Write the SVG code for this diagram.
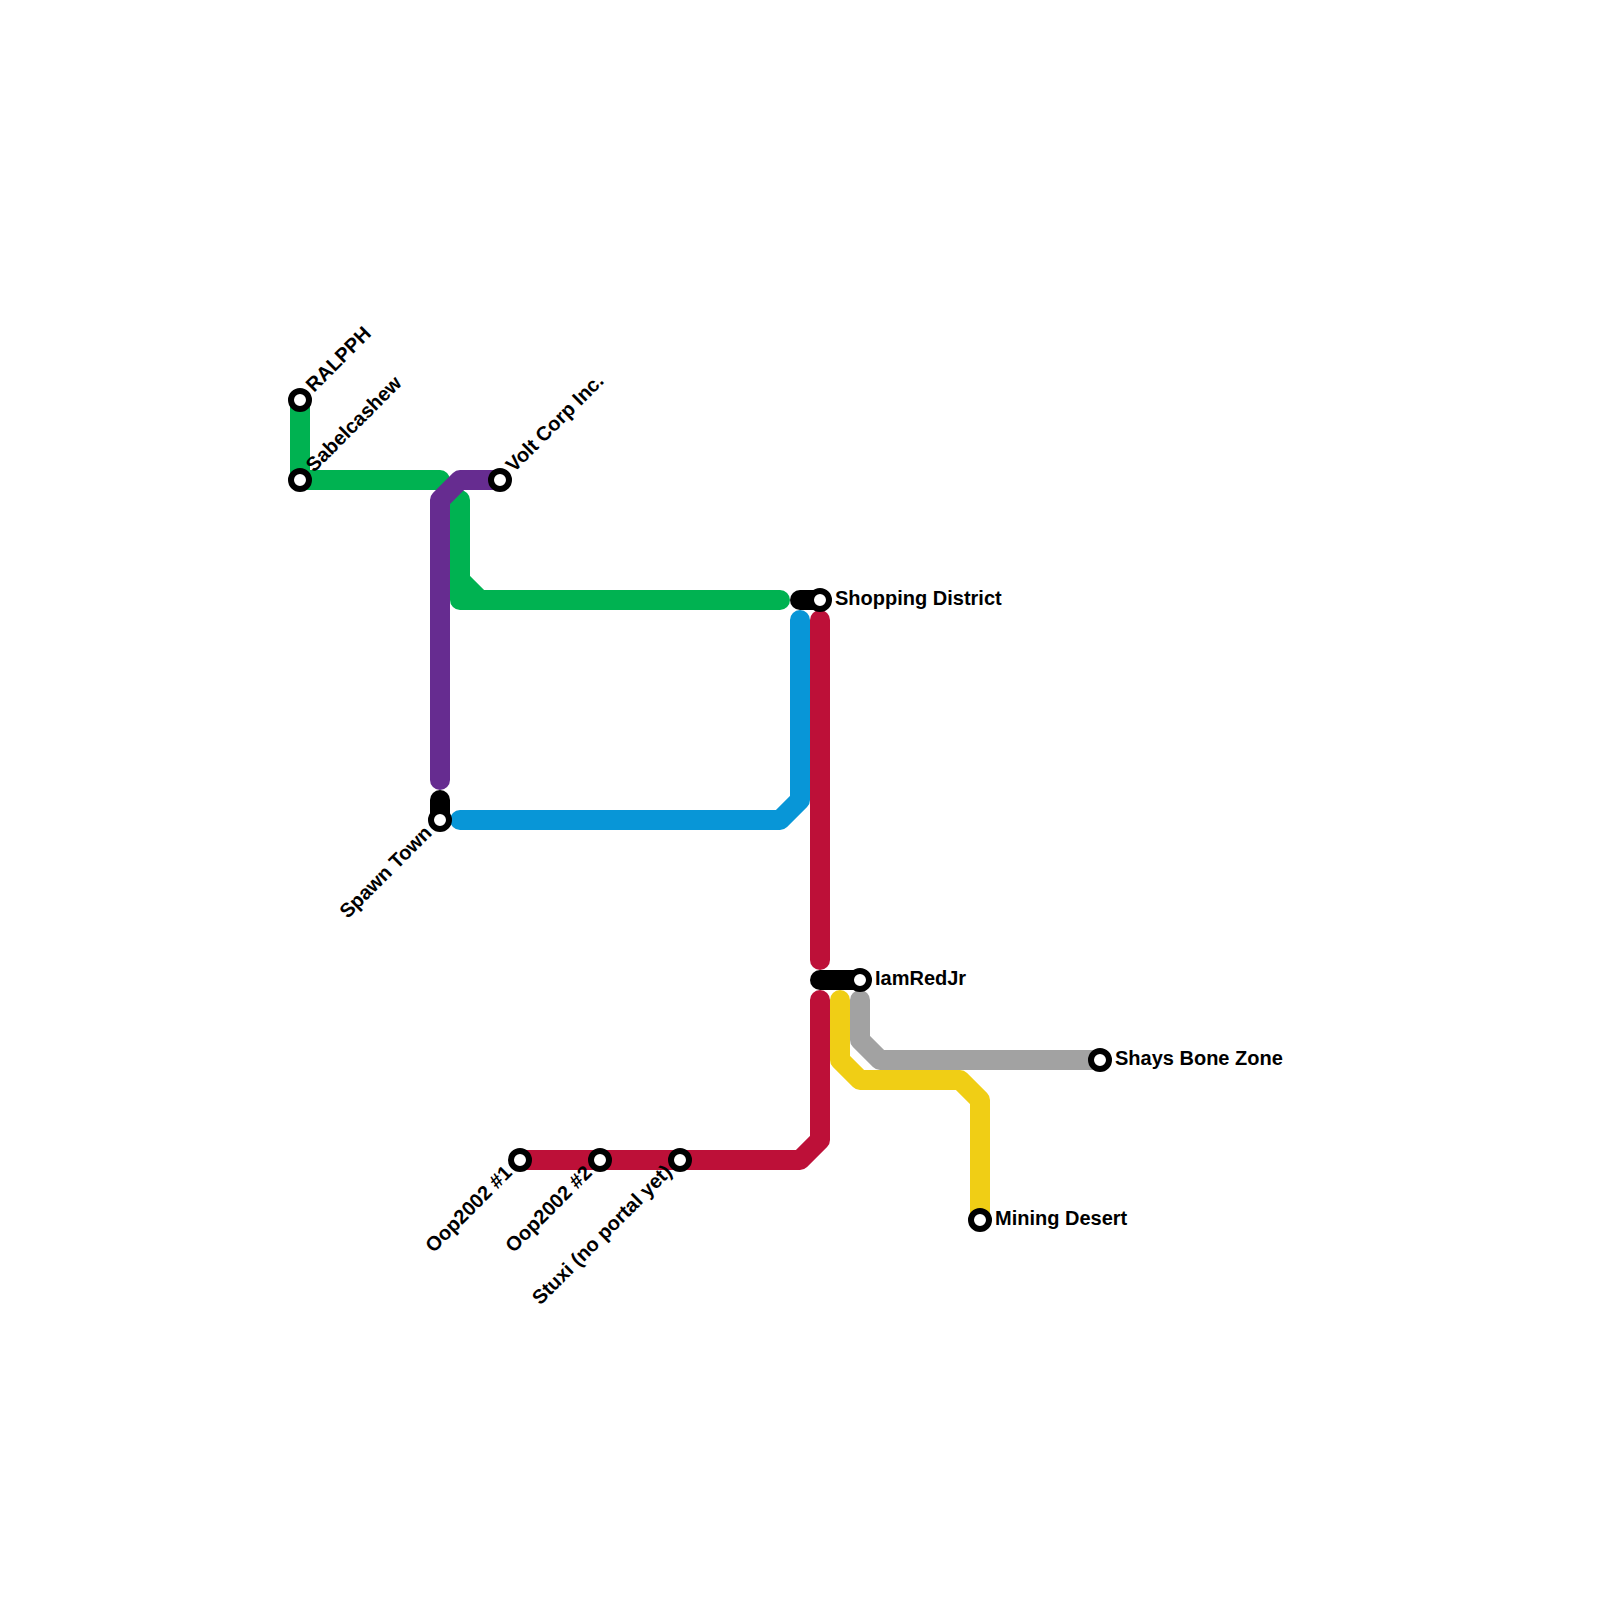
<svg xmlns="http://www.w3.org/2000/svg" width="1600" height="1600" viewBox="0 0 1600 1600">
<style>
.l{fill:none;stroke-width:20;stroke-linecap:round;stroke-linejoin:round}
.g{stroke:#00b251}.p{stroke:#662c90}.k{stroke:#000}.b{stroke:#0896d7}.r{stroke:#bd1038}.y{stroke:#f0ce15}.a{stroke:#a2a2a2}
.s{fill:#fff;stroke:#000;stroke-width:6}
text{font-family:"Liberation Sans",Arial,sans-serif;font-weight:700;font-size:20px;fill:#000}
.e{text-anchor:end}
</style>
<rect width="1600" height="1600" fill="#fff"/>
<g id="connectors">
<path class="l g" d="M300 400V480H440"/>
<path class="l g" d="M460 500V600H780M460 580L480 600"/>
<path class="l p" d="M500 480H460L440 500V780"/>
<path class="l k" d="M800 600H820"/>
<path class="l b" d="M800 620V800L780 820H460"/>
<path class="l r" d="M820 620V960"/>
<path class="l r" d="M820 1000V1140L800 1160H520"/>
<path class="l k" d="M820 980H860"/>
<path class="l k" d="M440 800V820"/>
<path class="l y" d="M840 1000V1060L860 1080H960L980 1100V1220"/>
<path class="l a" d="M860 1000V1040L880 1060H1100"/>
</g>
<g id="ralpph"><circle class="s" cx="300" cy="400" r="9"/><text transform="translate(314 393) rotate(-45)">RALPPH</text></g>
<g id="sabelcashew"><circle class="s" cx="300" cy="480" r="9"/><text transform="translate(314 473) rotate(-45)">Sabelcashew</text></g>
<g id="voltcorp"><circle class="s" cx="500" cy="480" r="9"/><text transform="translate(514 473) rotate(-45)">Volt Corp Inc.</text></g>
<g id="shopping"><circle class="s" cx="820" cy="600" r="9"/><text x="835" y="605">Shopping District</text></g>
<g id="spawn"><circle class="s" cx="440" cy="820" r="9"/><text class="e" transform="translate(433 834) rotate(-45)">Spawn Town</text></g>
<g id="iamredjr"><circle class="s" cx="860" cy="980" r="9"/><text x="875" y="985">IamRedJr</text></g>
<g id="shays"><circle class="s" cx="1100" cy="1060" r="9"/><text x="1115" y="1065">Shays Bone Zone</text></g>
<g id="mining"><circle class="s" cx="980" cy="1220" r="9"/><text x="995" y="1225">Mining Desert</text></g>
<g id="oop1"><circle class="s" cx="520" cy="1160" r="9"/><text class="e" transform="translate(513 1174) rotate(-45)">Oop2002 #1</text></g>
<g id="oop2"><circle class="s" cx="600" cy="1160" r="9"/><text class="e" transform="translate(593 1174) rotate(-45)">Oop2002 #2</text></g>
<g id="stuxi"><circle class="s" cx="680" cy="1160" r="9"/><text class="e" transform="translate(673 1173) rotate(-45)">Stuxi (no portal yet)</text></g>
</svg>
